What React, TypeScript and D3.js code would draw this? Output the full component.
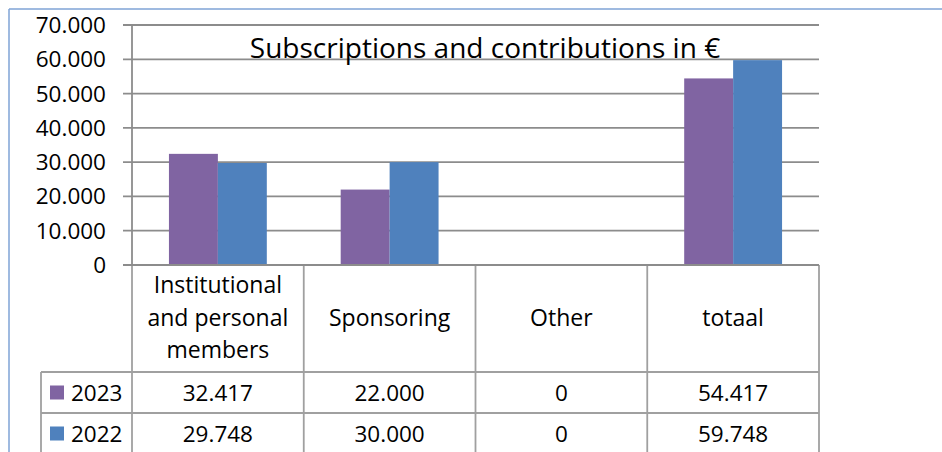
import React from "react";
import * as d3 from "d3";

const categories = ["Institutional and personal members", "Sponsoring", "Other", "totaal"];
const categoryLines = [["Institutional", "and personal", "members"], ["Sponsoring"], ["Other"], ["totaal"]];
const seriesNames = ["2023", "2022"];
const values2023 = [32417, 22000, 0, 54417];
const values2022 = [29748, 30000, 0, 59748];
const yTicks = [0, 10000, 20000, 30000, 40000, 50000, 60000, 70000];
const title = "Subscriptions and contributions in €";

const colors = ["#8064a2", "#4f81bd"];
const FONT = "'Open Sans', Lato, sans-serif";

const locale = d3.formatLocale({ decimal: ",", thousands: ".", grouping: [3], currency: ["€", ""] });
const fmt = locale.format(",d");

export default function App() {
  const W = 942, H = 452;
  const left = 132, right = 819, top = 25, base = 265;
  const y = d3.scaleLinear().domain([0, 70000]).range([base, top]);
  const x = d3.scaleBand<string>().domain(categories).range([left, right]).paddingInner(0).paddingOuter(0);
  const x1 = d3.scaleBand<string>().domain(seriesNames).range([0, x.bandwidth()]).paddingInner(0).paddingOuter(0.755);
  const series = [values2023, values2022];

  const headerBottom = 372;
  const row1Bottom = 413;
  const tableLeft = 41;
  const gridColor = "#8c8c8c";
  const tableColor = "#a0a0a0";
  const fs = 22.5;

  return (
    <svg width={W} height={H} style={{ position: "absolute", left: 0, top: 0, background: "#fff", fontVariantLigatures: "none" }} fontFamily={FONT}>
      {/* outer frame */}
      <line x1={9} y1={9} x2={W} y2={9} stroke="#7fa3d6" strokeWidth={1.5} />
      <line x1={9} y1={9} x2={9} y2={H} stroke="#7fa3d6" strokeWidth={1.5} />

      {/* gridlines */}
      {yTicks.map((t) => (
        <g key={t}>
          <line x1={123} x2={right} y1={y(t)} y2={y(t)} stroke={gridColor} strokeWidth={1.8} />
          <text x={106} y={y(t) + 8} textAnchor="end" fontSize={fs} fill="#000">
            {fmt(t)}
          </text>
        </g>
      ))}
      {/* y axis */}
      <line x1={left} x2={left} y1={top} y2={base} stroke={gridColor} strokeWidth={1.8} />

      {/* title */}
      <text x={485} y={58} textAnchor="middle" fontSize={28} fill="#000">
        {title}
      </text>

      {/* bars */}
      {categories.map((c, i) => (
        <g key={c}>
          {seriesNames.map((s, j) => {
            const v = series[j][i];
            if (!v) return null;
            return (
              <rect
                key={s}
                x={(x(c) as number) + (x1(s) as number)}
                width={x1.bandwidth()}
                y={y(v)}
                height={base - y(v)}
                fill={colors[j]}
              />
            );
          })}
        </g>
      ))}

      {/* table lines */}
      {[...categories.map((c) => x(c) as number), right].map((xx, i) => (
        <line key={i} x1={xx} x2={xx} y1={base} y2={H} stroke={tableColor} strokeWidth={1.8} />
      ))}
      <line x1={tableLeft} x2={tableLeft} y1={headerBottom} y2={H} stroke={tableColor} strokeWidth={1.8} />
      <line x1={tableLeft} x2={right} y1={headerBottom} y2={headerBottom} stroke={tableColor} strokeWidth={1.8} />
      <line x1={tableLeft} x2={right} y1={row1Bottom} y2={row1Bottom} stroke={tableColor} strokeWidth={1.8} />
      <line x1={123} x2={right} y1={base} y2={base} stroke={gridColor} strokeWidth={1.8} />

      {/* header labels */}
      {categories.map((c, i) => {
        const cx = (x(c) as number) + x.bandwidth() / 2;
        const lines = categoryLines[i];
        const lh = 32.5;
        const mid = (base + headerBottom) / 2 + 7;
        return lines.map((ln, k) => (
          <text key={c + k} x={cx} y={mid + (k - (lines.length - 1) / 2) * lh} textAnchor="middle" fontSize={23} fill="#000">
            {ln}
          </text>
        ));
      })}

      {/* rows */}
      {seriesNames.map((s, j) => {
        const rowTop = j === 0 ? headerBottom : row1Bottom;
        const rowMid = rowTop + 20.5;
        return (
          <g key={s}>
            <rect x={50} y={rowMid - 7} width={14} height={14} fill={colors[j]} />
            <text x={71} y={rowMid + 8} fontSize={fs} fill="#000">
              {s}
            </text>
            {categories.map((c, i) => (
              <text key={c} x={(x(c) as number) + x.bandwidth() / 2} y={rowMid + 8} textAnchor="middle" fontSize={fs} fill="#000">
                {fmt(series[j][i])}
              </text>
            ))}
          </g>
        );
      })}
    </svg>
  );
}
